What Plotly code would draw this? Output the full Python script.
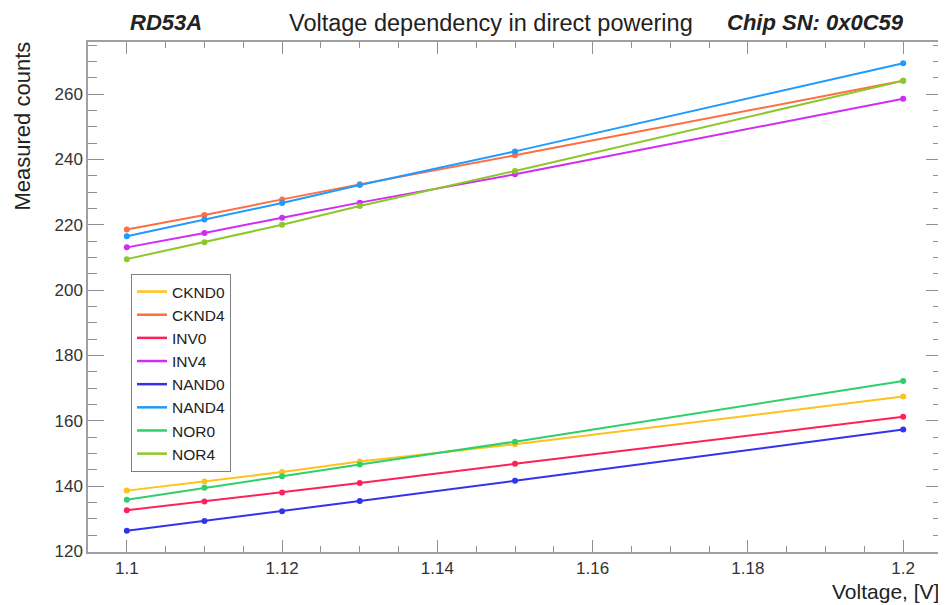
import plotly.graph_objects as go

voltage = [1.10, 1.11, 1.12, 1.13, 1.15, 1.20]

series_names = ["CKND0", "CKND4", "INV0", "INV4", "NAND0", "NAND4", "NOR0", "NOR4"]
ckn0 = [138.6, 141.4, 144.3, 147.5, 152.8, 167.4]
ckn4 = [218.6, 223.0, 227.8, 232.4, 241.3, 264.1]
inv0 = [132.6, 135.3, 138.0, 140.9, 146.8, 161.2]
inv4 = [213.1, 217.5, 222.2, 226.8, 235.5, 258.6]
nand0 = [126.3, 129.3, 132.3, 135.4, 141.6, 157.3]
nand4 = [216.5, 221.6, 226.7, 232.2, 242.5, 269.5]
nor0 = [135.8, 139.5, 143.0, 146.6, 153.6, 172.2]
nor4 = [209.5, 214.7, 220.0, 225.8, 236.5, 264.1]
series_values = [ckn0, ckn4, inv0, inv4, nand0, nand4, nor0, nor4]
colors = ["#ffc21a", "#ff6e40", "#ff1f5b", "#d12cf2", "#3333ee", "#1e9bff", "#2fcf6a", "#8cc82a"]

x_ticks = [1.10, 1.12, 1.14, 1.16, 1.18, 1.20]
x_tick_text = ["1.1", "1.12", "1.14", "1.16", "1.18", "1.2"]
y_ticks = [120, 140, 160, 180, 200, 220, 240, 260]

FONT = "Liberation Sans, Arial, Helvetica"

# Figure sits inside the page body (8px default offset)
W, H = 938, 597
L, R, T, B = 80, 4, 34, 53
pw, ph = W - L - R, H - T - B

fig = go.Figure()
for name, vals, col in zip(series_names, series_values, colors):
    fig.add_trace(go.Scatter(x=voltage, y=vals, mode="lines+markers", name=name,
                             line=dict(color=col, width=2), marker=dict(color=col, size=6),
                             showlegend=False))
for name, col in zip(series_names, colors):
    fig.add_trace(go.Scatter(x=[None], y=[None], mode="lines", name=name,
                             line=dict(color=col, width=2.5)))

axis_common = dict(showline=True, linecolor="#a0a0a0", linewidth=1.5, mirror="ticks",
                   ticks="inside", tickcolor="#909090", tickwidth=1, showgrid=False,
                   zeroline=False, tickfont=dict(family=FONT, size=17, color="#333333"))

fig.update_xaxes(range=[1.095, 1.205], tickvals=x_ticks, ticktext=x_tick_text, ticklen=12,
                 minor=dict(dtick=0.005, ticklen=6, ticks="inside", tickcolor="#909090", showgrid=False),
                 **axis_common)
fig.update_yaxes(range=[119.8, 276], tickvals=y_ticks, ticklen=16,
                 minor=dict(dtick=5, ticklen=9, ticks="inside", tickcolor="#909090", showgrid=False),
                 **axis_common)


def px(X):
    return (X - 8 - L) / pw


def py(Y):
    return (H - B - (Y - 8)) / ph


def note(text, X, Y, size, xanchor="center", yanchor="middle", angle=0):
    return dict(text=text, x=px(X), y=py(Y), xref="paper", yref="paper", showarrow=False,
                xanchor=xanchor, yanchor=yanchor, textangle=angle,
                font=dict(size=size, color="#222222"))


fig.update_layout(
    width=W, height=H,
    margin=dict(l=L, r=R, t=T, b=B, autoexpand=False),
    plot_bgcolor="white", paper_bgcolor="white",
    font=dict(family=FONT, color="#222222"),
    legend=dict(x=px(131), y=py(274), xanchor="left", yanchor="top",
                bordercolor="#808080", borderwidth=1, bgcolor="white",
                font=dict(size=15.5, color="#222222"), tracegroupgap=0, itemwidth=30),
    annotations=[
        note("<b><i>RD53A</i></b>", 166, 23, 22),
        note("Voltage dependency in direct powering", 491, 23, 23.5),
        note("<b><i>Chip SN: 0x0C59</i></b>", 815, 23, 22),
        note("Measured counts", 22, 40, 22, xanchor="center", yanchor="top", angle=-90),
        note("Voltage, [V]", 941, 591, 21, xanchor="right"),
    ],
)

fig.write_html("out.html")
